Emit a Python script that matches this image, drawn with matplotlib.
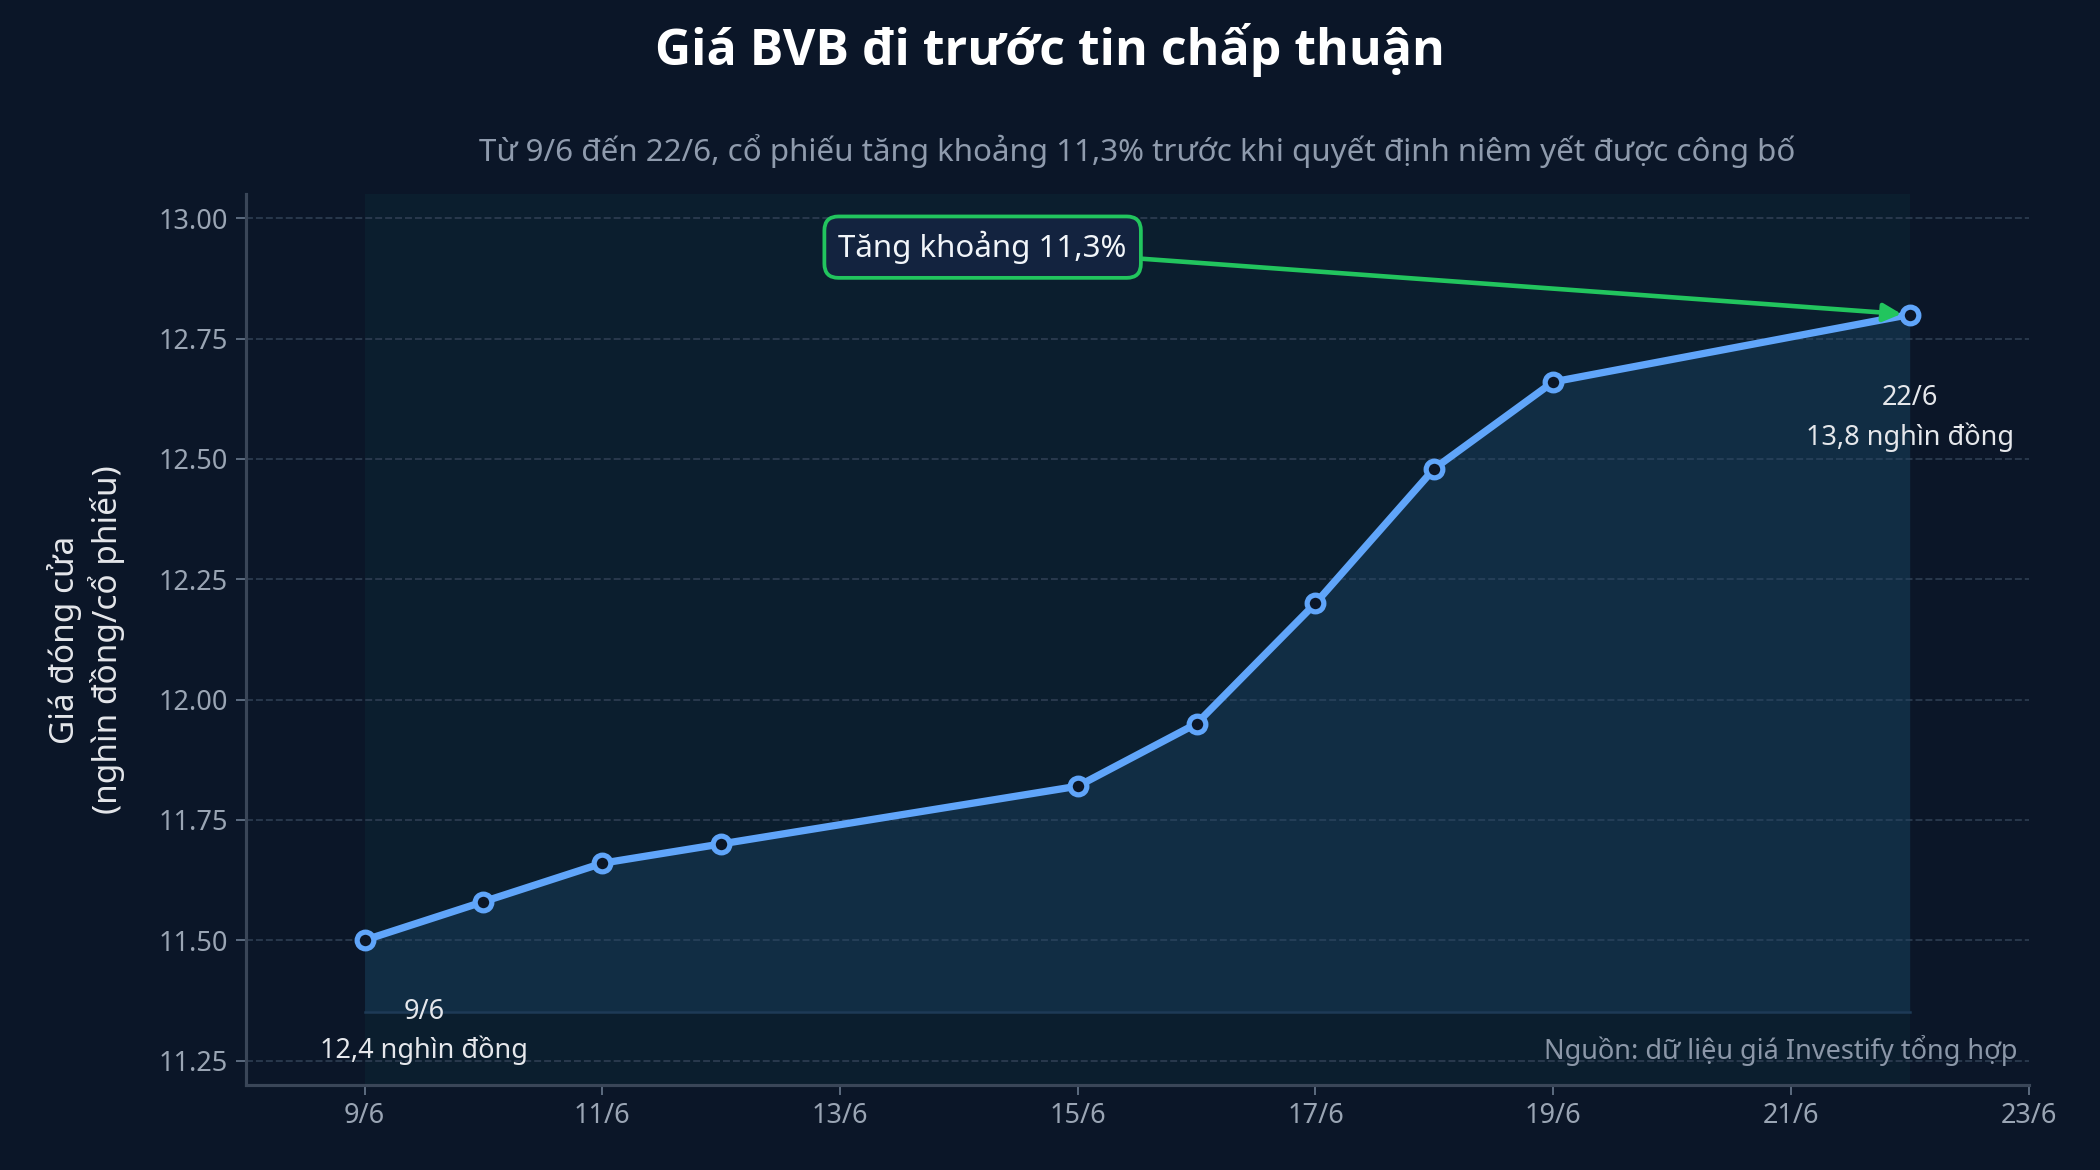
import matplotlib.pyplot as plt
from matplotlib.ticker import FixedLocator, FuncFormatter

plt.rcParams['font.family'] = ['Noto Sans', 'DejaVu Sans']

# closing prices, June (day of month)
days = [9, 10, 11, 12, 15, 16, 17, 18, 19, 22]
prices = [11.50, 11.58, 11.66, 11.70, 11.82, 11.95, 12.20, 12.48, 12.66, 12.80]
xticks = [9, 11, 13, 15, 17, 19, 21, 23]
yticks = [11.25, 11.50, 11.75, 12.00, 12.25, 12.50, 12.75, 13.00]

bg = '#0b1628'
fig = plt.figure(figsize=(14, 7.8), dpi=150, facecolor=bg)
ax = fig.add_axes([0.117, 0.073, 0.849, 0.761], facecolor=bg)

# shaded period
ax.axvspan(days[0], days[-1], color='#14b8a6', alpha=0.05, lw=0, zorder=0)
ax.fill_between(days, prices, 11.35, color='#1e4a6e', alpha=0.35, lw=0, zorder=1)
ax.plot([days[0], days[-1]], [11.35, 11.35], color='#1e3a56', lw=1.2, zorder=1)

ax.plot(days, prices, color='#60a5fa', lw=3.5, marker='o', ms=8,
        mfc=bg, mec='#60a5fa', mew=2.5, zorder=4)

ax.set_xlim(8, 23)
ax.set_ylim(11.2, 13.05)
ax.xaxis.set_major_locator(FixedLocator(xticks))
ax.xaxis.set_major_formatter(FuncFormatter(lambda v, p: f'{int(v)}/6'))
ax.yaxis.set_major_locator(FixedLocator(yticks))
ax.yaxis.set_major_formatter(FuncFormatter(lambda v, p: f'{v:.2f}'))
ax.tick_params(colors='#6b7a8f', labelcolor='#9aa5b4', labelsize=13, length=5)
ax.grid(axis='y', color='#2a3a4e', ls='--', lw=0.9)
ax.set_axisbelow(True)
for s in ['top', 'right']:
    ax.spines[s].set_visible(False)
for s in ['left', 'bottom']:
    ax.spines[s].set_color('#3a4658')
    ax.spines[s].set_linewidth(1.5)

ax.set_ylabel('Giá đóng cửa\n(nghìn đồng/cổ phiếu)', color='#e5e7eb', fontsize=16, labelpad=16)

# labels at ends
ax.text(days[0] + 0.5, 11.31, '9/6\n12,4 nghìn đồng', ha='center', va='center',
        color='#e5e7eb', fontsize=13, linespacing=1.45)
ax.text(days[-1], 12.585, '22/6\n13,8 nghìn đồng', ha='center', va='center',
        color='#e5e7eb', fontsize=13, linespacing=1.45)

ax.annotate('Tăng khoảng 11,3%', xy=(days[-1], prices[-1]), xytext=(14.2, 12.94),
            ha='center', va='center', color='#f1f5f9', fontsize=15,
            bbox=dict(boxstyle='round,pad=0.45', fc='#13233f', ec='#22c55e', lw=1.8),
            arrowprops=dict(arrowstyle='-|>', color='#22c55e', lw=2.2, mutation_scale=18,
                            shrinkA=0, shrinkB=4), zorder=5)

ax.text(0.994, 0.038, 'Nguồn: dữ liệu giá Investify tổng hợp', transform=ax.transAxes,
        ha='right', va='center', color='#8b97a8', fontsize=13)

fig.text(0.5, 0.957, 'Giá BVB đi trước tin chấp thuận', ha='center', va='center',
         color='white', fontsize=24, fontweight='bold', family=['Open Sans', 'DejaVu Sans'])
fig.text(0.5415, 0.871, 'Từ 9/6 đến 22/6, cổ phiếu tăng khoảng 11,3% trước khi quyết định niêm yết được công bố',
         ha='center', va='center', color='#8f9bad', fontsize=15)

fig.savefig('out.png', dpi=150, facecolor=bg)
